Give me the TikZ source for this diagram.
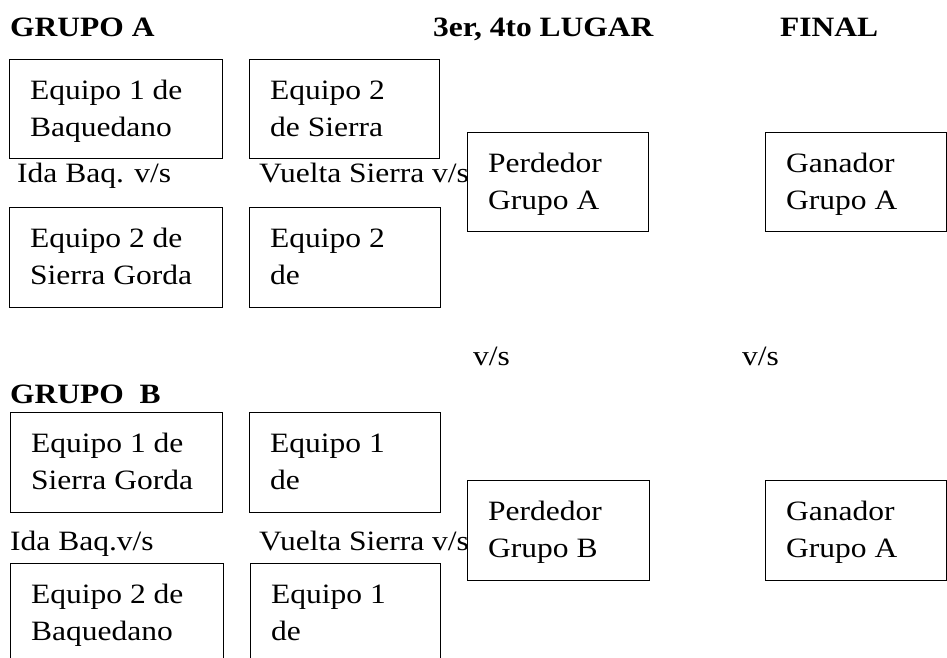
\documentclass[tikz,border=0pt]{standalone}
\usepackage{fontspec}
\setmainfont{Liberation Serif}[FakeStretch=1.125]

\begin{document}
\begin{tikzpicture}[x=1pt,y=-1pt,
   caja/.style={draw,line width=1.2pt,fill=white,inner sep=0pt,anchor=north west,
                minimum height=100pt},
   dentro/.style={anchor=north west,inner sep=0pt,align=left,xshift=21pt,yshift=-14pt,
                font=\fontsize{28}{37}\selectfont},
   txt/.style={anchor=base west,inner sep=0pt,font=\fontsize{28}{37}\selectfont},
   tit/.style={txt,font=\fontsize{28}{37}\selectfont\bfseries}]
   \clip (0,0) rectangle (947,658);
   % titulos
   \node[tit] (grupoA) at (10,37)  {GRUPO A};
   \node[tit] (lugar)  at (433,37) {3er, 4to LUGAR};
   \node[tit] (final)  at (780,37) {FINAL};
   \node[tit] (grupoB) at (10,403) {GRUPO\ \ B};
   % grupo A
   \node[caja,minimum width=213pt,minimum height=99pt] (a1) at (9,59) {};
   \node[caja,minimum width=190pt,minimum height=99pt] (a2) at (249,59) {};
   \node[txt] (idaA)    at (17,182)  {Ida Baq. v/s};
   \node[txt] (vueltaA) at (259,182) {Vuelta Sierra v/s};
   \node[caja,minimum width=213pt] (a3) at (9,207) {};
   \node[caja,minimum width=191pt] (a4) at (249,207) {};
   \node[dentro] at (a1.north west) {\strut Equipo 1 de\\Baquedano};
   \node[dentro] at (a2.north west) {\strut Equipo 2\\de Sierra};
   \node[dentro] at (a3.north west) {\strut Equipo 2 de\\Sierra Gorda};
   \node[dentro] at (a4.north west) {\strut Equipo 2\\de};
   % grupo B
   \node[caja,minimum width=212pt] (b1) at (10,412) {};
   \node[caja,minimum width=191pt] (b2) at (249,412) {};
   \node[txt] (idaB)    at (10,550)  {Ida Baq.v/s};
   \node[txt] (vueltaB) at (259,550) {Vuelta Sierra v/s};
   \node[caja,minimum width=213pt] (b3) at (10,563) {};
   \node[caja,minimum width=190pt] (b4) at (250,563) {};
   \node[dentro] at (b1.north west) {\strut Equipo 1 de\\Sierra Gorda};
   \node[dentro] at (b2.north west) {\strut Equipo 1\\de};
   \node[dentro] at (b3.north west) {\strut Equipo 2 de\\Baquedano};
   \node[dentro] at (b4.north west) {\strut Equipo 1\\de};
   % 3er, 4to lugar y final
   \node[txt] (vs3) at (473,365) {v/s};
   \node[txt] (vsF) at (742,365) {v/s};
   \node[caja,minimum width=181pt,minimum height=99pt] (perdA) at (467,132) {};
   \node[caja,minimum width=181pt,minimum height=99pt] (ganA)  at (765,132) {};
   \node[caja,minimum width=182pt] (perdB) at (467,480) {};
   \node[caja,minimum width=181pt] (ganB)  at (765,480) {};
   \node[dentro] at (perdA.north west) {\strut Perdedor\\Grupo A};
   \node[dentro] at (ganA.north west)  {\strut Ganador\\Grupo A};
   \node[dentro] at (perdB.north west) {\strut Perdedor\\Grupo B};
   \node[dentro] at (ganB.north west)  {\strut Ganador\\Grupo A};
\end{tikzpicture}
\end{document}
